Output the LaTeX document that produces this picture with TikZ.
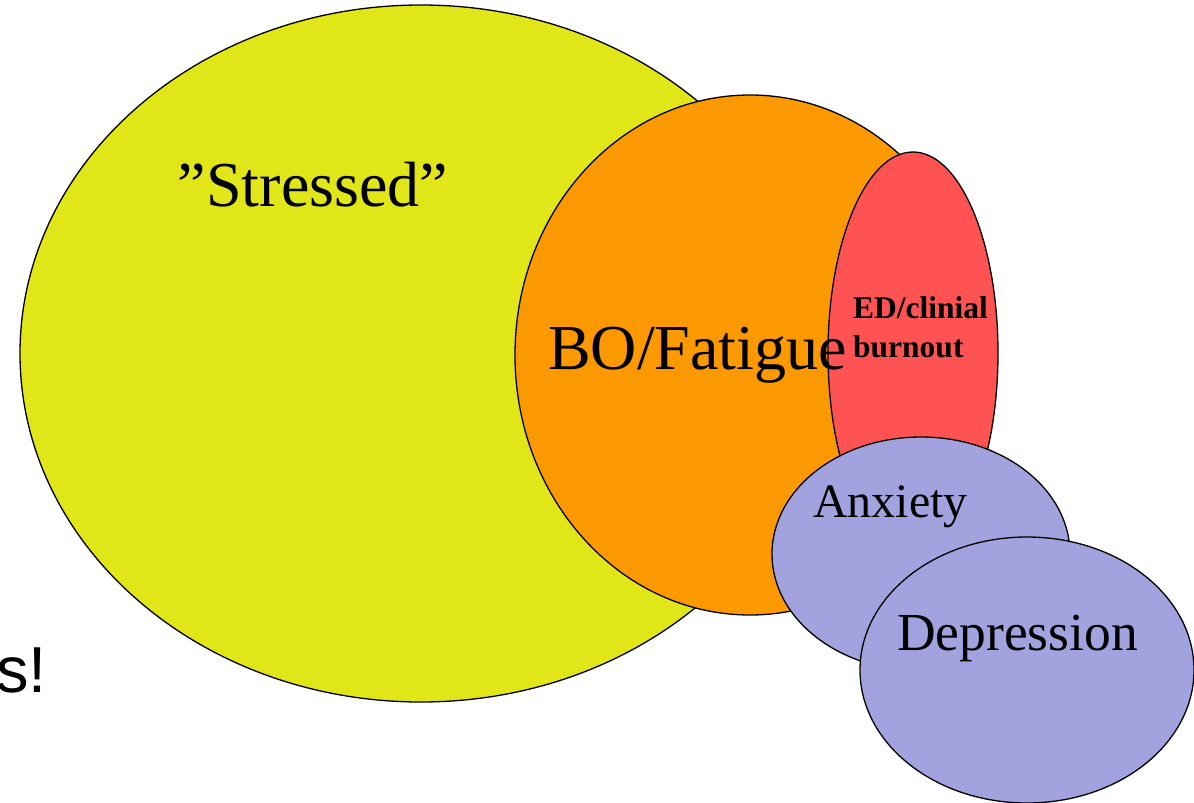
\documentclass[tikz,border=0pt]{standalone}
\usepackage{fontspec}
\setmainfont{Liberation Serif}
\newfontfamily\arialfont{Liberation Sans}
\definecolor{cyellow}{RGB}{225,230,25}
\definecolor{corange}{RGB}{252,153,0}
\definecolor{cred}{RGB}{255,82,82}
\definecolor{cblue}{RGB}{162,162,222}
\tikzset{
  blob/.style={draw=black, line width=1.3pt},
  lbl/.style={inner sep=0pt, text=black},
}
\begin{document}
\begin{tikzpicture}[x=1pt,y=-1pt]
\useasboundingbox (0,0) rectangle (1194,803);
\clip (0,0) rectangle (1194,803);
\fill[white] (0,0) rectangle (1194,803);
\node[lbl, anchor=base west, font=\arialfont\fontsize{65}{78}\selectfont] (ss) at (-4,692) {s!};
\filldraw[blob, fill=cyellow] (421,353.5) ellipse [x radius=401, y radius=348.5];
\filldraw[blob, fill=corange] (750,355) ellipse [x radius=235, y radius=260];
\filldraw[blob, fill=cred] (913,353) ellipse [x radius=85, y radius=201];
\filldraw[blob, fill=cblue] (921,554) ellipse [x radius=149, y radius=117];
\filldraw[blob, fill=cblue] (1027,670) ellipse [x radius=167, y radius=133];
\node[lbl, font=\fontsize{64}{76}\selectfont] (stressed) at (313,185) {”Stressed”};
\node[lbl, anchor=base west, font=\fontsize{64}{76}\selectfont] (bo) at (548,369) {BO/Fatigue};
\node[lbl, anchor=base west, font=\bfseries\fontsize{31.5}{39}\selectfont, align=left] (ed) at (853,357) {ED/clinial\\burnout};
\node[lbl, anchor=base west, font=\fontsize{48}{58}\selectfont] (anx) at (813,517) {Anxiety};
\node[lbl, anchor=base west, font=\fontsize{53.5}{62}\selectfont] (dep) at (897,650) {Depression};
\end{tikzpicture}
\end{document}
